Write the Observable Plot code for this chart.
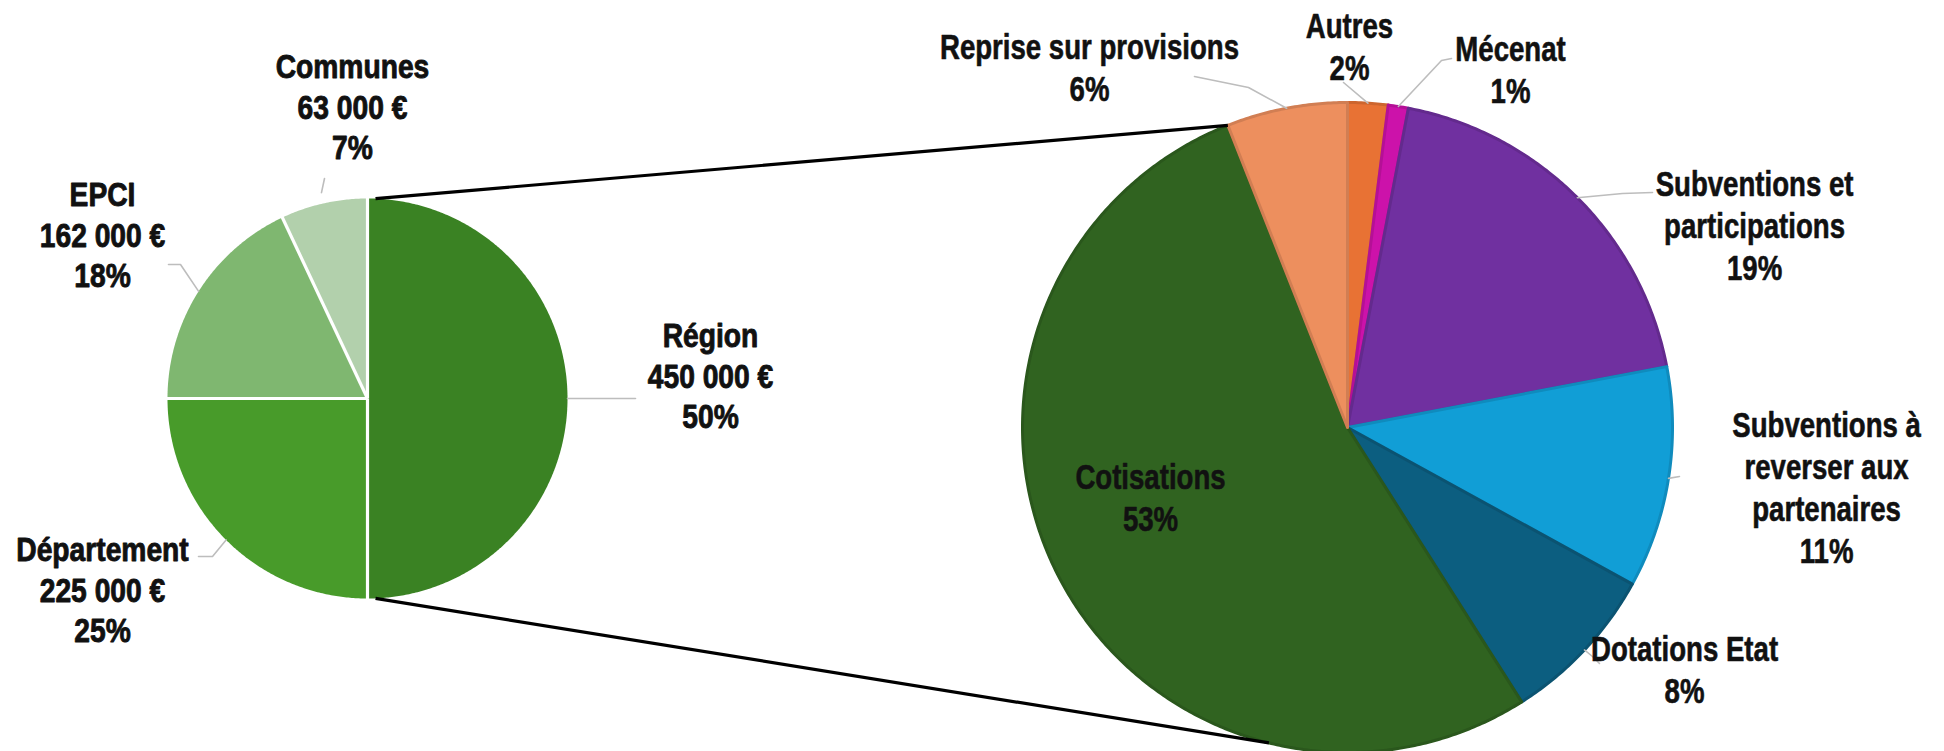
<!DOCTYPE html>
<html><head><meta charset="utf-8">
<script src="https://cdn.jsdelivr.net/npm/d3@7"></script>
<script src="https://cdn.jsdelivr.net/npm/@observablehq/plot@0.6"></script>
<style>html,body{margin:0;padding:0;background:#fff}svg{display:block}</style>
</head><body><div id="chart"></div>
<script>
// ---------- DATA ----------
const leftCategories = ["Région", "Département", "EPCI", "Communes"];
const leftAmounts = [450000, 225000, 162000, 63000];
const leftPercents = [50, 25, 18, 7];
const rightCategories = ["Autres", "Mécenat", "Subventions et participations", "Subventions à reverser aux partenaires", "Dotations Etat", "Cotisations", "Reprise sur provisions"];
const rightLabelLines = [["Autres"], ["Mécenat"], ["Subventions et", "participations"], ["Subventions à", "reverser aux", "partenaires"], ["Dotations Etat"], ["Cotisations"], ["Reprise sur provisions"]];
const rightPercents = [2, 1, 19, 11, 8, 53, 6];

// ---------- STYLE / LAYOUT ----------
const W = 1944, H = 751;
const leftColors = ["#3a8223", "#489b2a", "#7fb770", "#b2d0ac"];
const rightColors = ["#e87234", "#cc12aa", "#7030a0", "#119ed6", "#0c5e80", "#306320", "#ed8f5e"];
const LP = {cx: 367, cy: 398, r: 200};
const RP = {cx: 1347, cy: 427, r: 325};
const leftLabelPos = [[710, 374], [102, 588], [102, 233], [352, 105]];
const rightLabelPos = [[1349, 45], [1510, 68], [1754, 224], [1826, 486], [1684, 668], [1150, 496], [1089, 66]];
const leftLeaders = [{gap: 0, pts: [[635, 398]]}, {gap: 0, pts: [[212, 556], [198, 556]]}, {gap: 0, pts: [[180, 264], [168, 264]]}, {gap: 11, pts: [[324, 178]]}];
const rightLeaders = [{gap: 0, pts: [[1343, 82]]}, {gap: 0, pts: [[1441, 60], [1451, 58]]}, {gap: 0, pts: [[1622, 193], [1652, 192]]}, {gap: 0, pts: [[1679, 476]]}, {gap: 0, pts: [[1592, 656], [1599, 663]]}, null, {gap: 0, pts: [[1248, 87], [1194, 76]]}];
const connectorAngles = [[2.3, null], [177.7, 194]]; // left-pie angle, right-pie angle (null = start of last slice)
const LEFT_FONT = "Liberation Sans, Arial, sans-serif";
const RIGHT_FONT = "Liberation Sans, Arial, Helvetica, sans-serif";
const leftSquash = 0.83, rightSquash = 0.80;

// ---------- HELPERS ----------
const fmt = d3.formatLocale({decimal: ",", thousands: " ", grouping: [3], currency: ["", " €"]}).format("$,");
const pt = (p, a, dr = 0) => { const t = a * Math.PI / 180; return [p.cx + (p.r + dr) * Math.sin(t), p.cy - (p.r + dr) * Math.cos(t)]; };
function slices(p, values) {
  const tot = d3.sum(values); let acc = 0;
  return values.map((v, i) => {
    const a0 = acc / tot * 360; acc += v; const a1 = acc / tot * 360;
    const pts = [[p.cx, p.cy]];
    const n = Math.max(4, Math.ceil((a1 - a0) / 0.5));
    for (let k = 0; k <= n; k++) pts.push(pt(p, a0 + (a1 - a0) * k / n));
    pts.push([p.cx, p.cy]);
    return {i, a0, a1, mid: (a0 + a1) / 2, pts};
  });
}
const ls = slices(LP, leftPercents);
const rs = slices(RP, rightPercents);

const marks = [];
ls.forEach(s => marks.push(Plot.line(s.pts, {x: d => d[0], y: d => d[1], fill: leftColors[s.i], stroke: "none", curve: "linear"})));
marks.push(Plot.link(ls, {x1: LP.cx, y1: LP.cy, x2: s => pt(LP, s.a0, 2)[0], y2: s => pt(LP, s.a0, 2)[1], stroke: "#ffffff", strokeWidth: 3.2}));
rs.forEach(s => marks.push(Plot.line(s.pts, {x: d => d[0], y: d => d[1], fill: rightColors[s.i], stroke: d3.color(rightColors[s.i]).darker(0.35).formatHex(), strokeWidth: 3, strokeLinejoin: "round", curve: "linear"})));

function leaderLines(sl, p, defs) {
  const out = [];
  sl.forEach(s => { const d = defs[s.i]; if (!d) return; out.push([pt(p, s.mid, d.gap), ...d.pts].map(q => ({x: q[0], y: q[1], k: s.i}))); });
  return out.flat();
}
marks.push(Plot.line(leaderLines(ls, LP, leftLeaders), {x: "x", y: "y", z: "k", stroke: "#bdbdbd", strokeWidth: 1.6, curve: "linear"}));
marks.push(Plot.line(leaderLines(rs, RP, rightLeaders), {x: "x", y: "y", z: "k", stroke: "#bdbdbd", strokeWidth: 1.6, curve: "linear"}));

const conn = connectorAngles.map(([la, ra]) => { const a = pt(LP, la); const b = pt(RP, ra == null ? rs[rs.length - 1].a0 : ra); return {x1: a[0], y1: a[1], x2: b[0], y2: b[1]}; });
marks.push(Plot.link(conn, {x1: "x1", y1: "y1", x2: "x2", y2: "y2", stroke: "#000", strokeWidth: 3.2}));

const leftLabels = leftCategories.map((c, i) => ({x: leftLabelPos[i][0], y: leftLabelPos[i][1], t: `${c}\n${fmt(leftAmounts[i])}\n${leftPercents[i]}%`}));
const rightLabels = rightCategories.map((c, i) => ({x: rightLabelPos[i][0], y: rightLabelPos[i][1], t: `${rightLabelLines[i].join("\n")}\n${rightPercents[i]}%`}));
marks.push(Plot.text(leftLabels, {x: "x", y: "y", text: "t", fontFamily: LEFT_FONT, fontWeight: "bold", fontSize: 34, lineHeight: 1.2, fill: "#111", stroke: "#111", strokeWidth: 0.9, textAnchor: "middle", lineAnchor: "middle"}));
marks.push(Plot.text(rightLabels, {x: "x", y: "y", text: "t", fontFamily: RIGHT_FONT, fontWeight: "bold", fontSize: 34.5, lineHeight: 1.22, fill: "#111", stroke: "#111", strokeWidth: 0.6, textAnchor: "middle", lineAnchor: "middle"}));

const chart = Plot.plot({
  width: W, height: H, margin: 0,
  x: {domain: [0, W], range: [0, W], axis: null},
  y: {domain: [0, H], range: [0, H], axis: null},
  style: {background: "#fff", overflow: "hidden"},
  marks
});
document.getElementById("chart").append(chart);

// emulate a narrow bold face (no narrow font installed): squash each label horizontally about its centre
function squash(fam, s) {
  chart.querySelectorAll(`g[font-family="${fam}"] text`).forEach(el => {
    const bb = el.getBBox(); const c = bb.x + bb.width / 2;
    const prev = el.getAttribute("transform") || "";
    el.setAttribute("transform", `${prev} translate(${c},0) scale(${s},1) translate(${-c},0)`);
  });
}
squash(LEFT_FONT, leftSquash);
squash(RIGHT_FONT, rightSquash);
</script>
</body></html>
